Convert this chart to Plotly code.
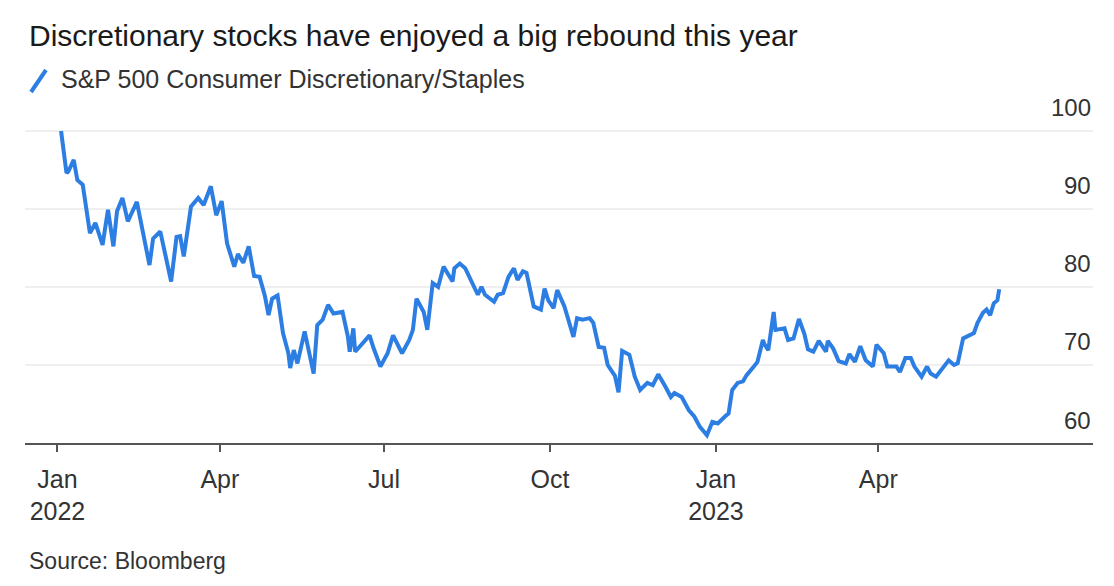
import plotly.graph_objects as go

title_text = "Discretionary stocks have enjoyed a big rebound this year"
series_name = "S&P 500 Consumer Discretionary/Staples"
source_text = "Source: Bloomberg"

dates = [
    "2022-01-03", "2022-01-05", "2022-01-06", "2022-01-07", "2022-01-10", "2022-01-12", "2022-01-15",
    "2022-01-19", "2022-01-22", "2022-01-26", "2022-01-29", "2022-02-01", "2022-02-03", "2022-02-06",
    "2022-02-09", "2022-02-14", "2022-02-17", "2022-02-21", "2022-02-23", "2022-02-27", "2022-03-05",
    "2022-03-08", "2022-03-10", "2022-03-12", "2022-03-16", "2022-03-20", "2022-03-23", "2022-03-27",
    "2022-03-30", "2022-04-02", "2022-04-05", "2022-04-09", "2022-04-11", "2022-04-14", "2022-04-17",
    "2022-04-20", "2022-04-23", "2022-04-26", "2022-04-28", "2022-04-30", "2022-05-03", "2022-05-04",
    "2022-05-06", "2022-05-09", "2022-05-10", "2022-05-12", "2022-05-14", "2022-05-18", "2022-05-20",
    "2022-05-23", "2022-05-25", "2022-05-28", "2022-05-31", "2022-06-03", "2022-06-08", "2022-06-11",
    "2022-06-12", "2022-06-14", "2022-06-15", "2022-06-19", "2022-06-23", "2022-06-25", "2022-06-29",
    "2022-07-03", "2022-07-06", "2022-07-11", "2022-07-15", "2022-07-17", "2022-07-19", "2022-07-23",
    "2022-07-25", "2022-07-28", "2022-07-31", "2022-08-03", "2022-08-05", "2022-08-08", "2022-08-09",
    "2022-08-12", "2022-08-15", "2022-08-19", "2022-08-22", "2022-08-24", "2022-08-26", "2022-08-31",
    "2022-09-02", "2022-09-05", "2022-09-08", "2022-09-11", "2022-09-13", "2022-09-16", "2022-09-18",
    "2022-09-22", "2022-09-26", "2022-09-28", "2022-09-30", "2022-10-03", "2022-10-05", "2022-10-09",
    "2022-10-11", "2022-10-14", "2022-10-16", "2022-10-19", "2022-10-23", "2022-10-25", "2022-10-28",
    "2022-10-31", "2022-11-02", "2022-11-06", "2022-11-08", "2022-11-10", "2022-11-14", "2022-11-17",
    "2022-11-20", "2022-11-24", "2022-11-27", "2022-11-30", "2022-12-04", "2022-12-07", "2022-12-09",
    "2022-12-13", "2022-12-17", "2022-12-20", "2022-12-23", "2022-12-27", "2022-12-30", "2023-01-02",
    "2023-01-06", "2023-01-08", "2023-01-10", "2023-01-13", "2023-01-16", "2023-01-18", "2023-01-22",
    "2023-01-24", "2023-01-27", "2023-01-28", "2023-01-30", "2023-02-02", "2023-02-03", "2023-02-07",
    "2023-02-08", "2023-02-10", "2023-02-13", "2023-02-16", "2023-02-19", "2023-02-21", "2023-02-24",
    "2023-02-27", "2023-03-01", "2023-03-03", "2023-03-04", "2023-03-07", "2023-03-10", "2023-03-14",
    "2023-03-16", "2023-03-19", "2023-03-22", "2023-03-25", "2023-03-29", "2023-03-31", "2023-04-04",
    "2023-04-06", "2023-04-11", "2023-04-13", "2023-04-16", "2023-04-19", "2023-04-21", "2023-04-25",
    "2023-04-28", "2023-04-30", "2023-05-03", "2023-05-06", "2023-05-10", "2023-05-13", "2023-05-15",
    "2023-05-18", "2023-05-20", "2023-05-24", "2023-05-26", "2023-05-29", "2023-05-31", "2023-06-02",
    "2023-06-04", "2023-06-06", "2023-06-07",
]

ratio = [
    100.0, 96.5, 94.6, 94.8, 96.3, 93.7, 93.1,
    86.9, 88.2, 85.4, 89.9, 85.2, 89.7, 91.4,
    88.4, 90.9, 87.3, 82.8, 86.2, 87.1, 80.7,
    86.4, 86.5, 83.9, 90.3, 91.4, 90.5, 92.9,
    89.2, 91.0, 85.6, 82.6, 84.2, 83.1, 85.2,
    81.4, 81.3, 78.8, 76.4, 78.5, 78.9, 77.5,
    74.1, 71.5, 69.6, 71.9, 70.2, 74.3, 72.3,
    68.9, 75.1, 75.8, 77.7, 76.6, 76.8, 73.6,
    71.7, 74.7, 71.7, 72.8, 73.8, 72.3, 69.8,
    71.5, 73.8, 71.5, 73.2, 74.5, 78.5, 76.8,
    74.5, 80.5, 80.0, 82.6, 81.8, 80.7, 82.4,
    83.0, 82.4, 80.3, 79.0, 80.0, 79.0, 78.1,
    79.0, 79.2, 81.3, 82.4, 80.9, 82.0, 81.8,
    77.5, 77.1, 79.8, 78.3, 77.3, 79.6, 77.5,
    75.8, 73.6, 76.0, 75.8, 76.0, 75.4, 72.3,
    72.2, 70.0, 68.6, 66.5, 71.8, 71.3, 68.5,
    66.8, 67.7, 67.4, 68.8, 67.2, 65.9, 66.4,
    65.9, 64.2, 63.4, 62.1, 61.0, 62.7, 62.5,
    63.4, 63.8, 66.8, 67.7, 67.9, 68.7, 69.8,
    70.4, 73.2, 72.6, 71.9, 76.8, 74.5, 74.7,
    74.7, 73.2, 73.4, 75.9, 74.0, 72.0, 71.7,
    73.1, 72.3, 71.7, 73.1, 72.1, 70.5, 70.2,
    71.4, 70.4, 72.4, 70.6, 69.8, 72.6, 71.5,
    69.8, 69.8, 69.1, 70.9, 70.9, 69.8, 68.5,
    69.8, 68.9, 68.5, 69.4, 70.6, 70.0, 70.2,
    73.4, 73.6, 74.1, 75.4, 76.7, 77.1, 76.4,
    77.9, 78.3, 79.7,
]

x_tick_vals = ["2022-01-01", "2022-04-01", "2022-07-01", "2022-10-01", "2023-01-01", "2023-04-01"]
x_tick_text = ["Jan<br>2022", "Apr", "Jul", "Oct", "Jan<br>2023", "Apr"]
y_tick_vals = [60, 70, 80, 90, 100]
y_tick_text = ["60", "70", "80", "90", "100"]

FONT = "Liberation Sans, Arial, Helvetica, sans-serif"
LINE_COLOR = "#2d7ee3"
TEXT_COLOR = "#333333"

W, H = 1114, 586
L, R, T, B = 25, 21, 127, 143
PH = H - T - B


def py(pix):
    return (H - B - pix) / PH


fig = go.Figure()
fig.add_trace(go.Scatter(
    x=dates, y=ratio, mode="lines",
    line=dict(color=LINE_COLOR, width=4),
    name=series_name, showlegend=False, hoverinfo="x+y",
))

annotations = [
    dict(text=title_text, xref="paper", yref="paper", x=0, y=py(35), xanchor="left", yanchor="middle",
         xshift=2, showarrow=False, font=dict(family=FONT, size=30, color="#1a1a1a")),
    dict(text=series_name, xref="paper", yref="paper", x=0, y=py(79), xanchor="left", yanchor="middle",
         xshift=34, showarrow=False, font=dict(family=FONT, size=25, color=TEXT_COLOR)),
    dict(text=source_text, xref="paper", yref="paper", x=0, y=py(561), xanchor="left", yanchor="middle",
         xshift=2, showarrow=False, font=dict(family=FONT, size=23, color=TEXT_COLOR)),
]
for v, t in zip(y_tick_vals, y_tick_text):
    annotations.append(dict(text=t, xref="paper", yref="y", x=1, y=v, xanchor="right", yanchor="middle",
                            yshift=23, showarrow=False, font=dict(family=FONT, size=24, color=TEXT_COLOR)))

shapes = [
    dict(type="line", xref="paper", yref="paper",
         x0=(31 - L) / (W - L - R), y0=py(92), x1=(46 - L) / (W - L - R), y1=py(70),
         line=dict(color=LINE_COLOR, width=4)),
]

fig.update_layout(
    width=W, height=H,
    margin=dict(l=L, r=R, t=T, b=B, pad=0),
    paper_bgcolor="white", plot_bgcolor="white",
    showlegend=False,
    annotations=annotations,
    shapes=shapes,
    xaxis=dict(
        type="date", range=["2021-12-14", "2023-07-29"],
        tickmode="array", tickvals=x_tick_vals, ticktext=x_tick_text,
        showgrid=False, zeroline=False,
        showline=True, linecolor="#555555", linewidth=1.5,
        ticks="outside", ticklen=7, tickwidth=1.5, tickcolor="#555555",
        tickfont=dict(family=FONT, size=25, color=TEXT_COLOR),
        ticklabelstandoff=6,
    ),
    yaxis=dict(
        range=[60, 100.5], tickmode="array", tickvals=y_tick_vals,
        showticklabels=False, showgrid=True, gridcolor="#efefef", gridwidth=1.5,
        zeroline=False, showline=False, ticks="",
    ),
)

fig.write_html("out.html")
